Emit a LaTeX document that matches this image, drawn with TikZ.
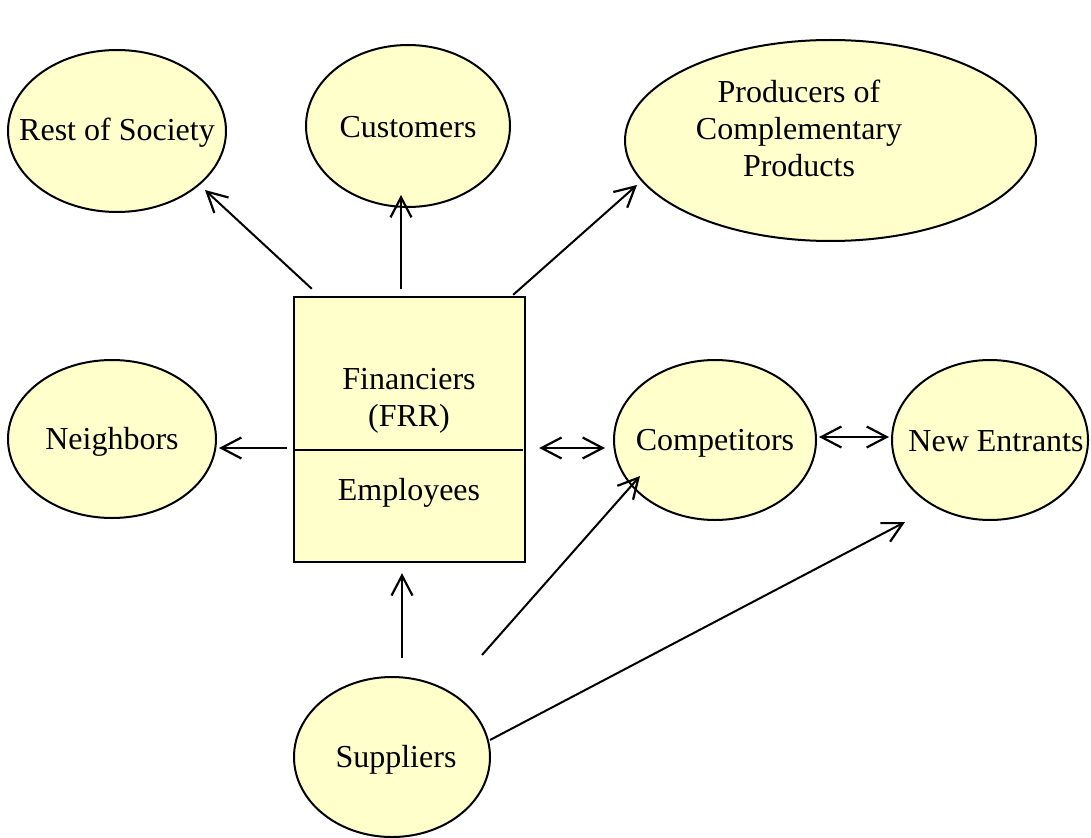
\documentclass[tikz,border=0pt]{standalone}
\usepackage{fontspec}
\setmainfont{Liberation Serif}
\usetikzlibrary{shapes.geometric,arrows.meta}
\definecolor{partyfill}{HTML}{FFFFCC}

\begin{document}
\begin{tikzpicture}[x=1pt,y=-1pt,
        party/.style={ellipse,draw,line width=2pt,fill=partyfill,inner sep=0pt},
        firmbox/.style={rectangle,draw,line width=2.4pt,fill=partyfill},
        label/.style={font=\fontsize{32}{37}\selectfont,align=center},
        arr/.style={line width=2pt,-{Straight Barb[length=20pt,width=21pt,line width=2.2pt]}},
        darr/.style={line width=2pt,{Straight Barb[length=20pt,width=21pt,line width=2.2pt]}-{Straight Barb[length=20pt,width=21pt,line width=2.2pt]}}]
    \useasboundingbox (0,0) rectangle (1091,837);
    % stakeholders
    \node[party,minimum width=218pt,minimum height=162pt] (society) at (117,131) {};
    \node[label] (societytext) at (117,133) {Rest of Society};
    \node[party,minimum width=204pt,minimum height=162pt] (customers) at (408,126) {};
    \node[label] (customerstext) at (408,127) {Customers};
    \node[party,minimum width=411pt,minimum height=201pt] (producers) at (830.5,140.5) {};
    \node[label] (producerstext) at (799,128) {Producers of\\Complementary\\Products};
    \node[party,minimum width=208pt,minimum height=158pt] (neighbors) at (112,439) {};
    \node[label] (neighborstext) at (112,442) {Neighbors};
    \node[party,minimum width=202pt,minimum height=160pt] (competitors) at (715,440) {};
    \node[label] (competitorstext) at (715,443) {Competitors};
    \node[party,minimum width=196pt,minimum height=160pt] (entrants) at (990,440) {};
    \node[label] (entrantstext) at (996,441) {New Entrants};
    \node[party,minimum width=196pt,minimum height=160pt] (suppliers) at (392,757) {};
    \node[label] (supplierstext) at (396,760) {Suppliers};
    % the firm
    \node[firmbox,minimum width=231pt,minimum height=265pt] (firm) at (409.5,429.5) {};
    \node[label] (financiers) at (409,401) {Financiers\\(FRR)};
    \node[label] (employees) at (409,493) {Employees};
    \draw[line width=2pt] (firm.west |- 0,450) -- ([xshift=-3pt]firm.east |- 0,450);
    % arrows
    \draw[arr] ([shift={(19,-7)}]firm.north west) -- ([shift={(88,59)}]society.center);
    \draw[arr] ([shift={(-8.5,-7)}]firm.north) -- ([shift={(-7,-13)}]customers.south);
    \draw[arr] ([shift={(-13,-1)}]firm.north east) -- ([shift={(-193.5,44.5)}]producers.center);
    \draw[arr] ([shift={(-6,18.5)}]firm.west) -- ([shift={(2,9)}]neighbors.east);
    \draw[darr] ([shift={(13,18.5)}]firm.east) -- ([shift={(-8,8)}]competitors.west);
    \draw[darr] ([shift={(2,-3)}]competitors.east) -- ([shift={(-2,-3)}]entrants.west);
    \draw[arr] ([shift={(10,-18)}]suppliers.north) -- ([shift={(-7.5,10)}]firm.south);
    \draw[arr] ([shift={(90,-102)}]suppliers.center) -- ([shift={(-75,36)}]competitors.center);
    \draw[arr] ([shift={(98,-17)}]suppliers.center) -- ([shift={(-85,82)}]entrants.center);
\end{tikzpicture}
\end{document}
